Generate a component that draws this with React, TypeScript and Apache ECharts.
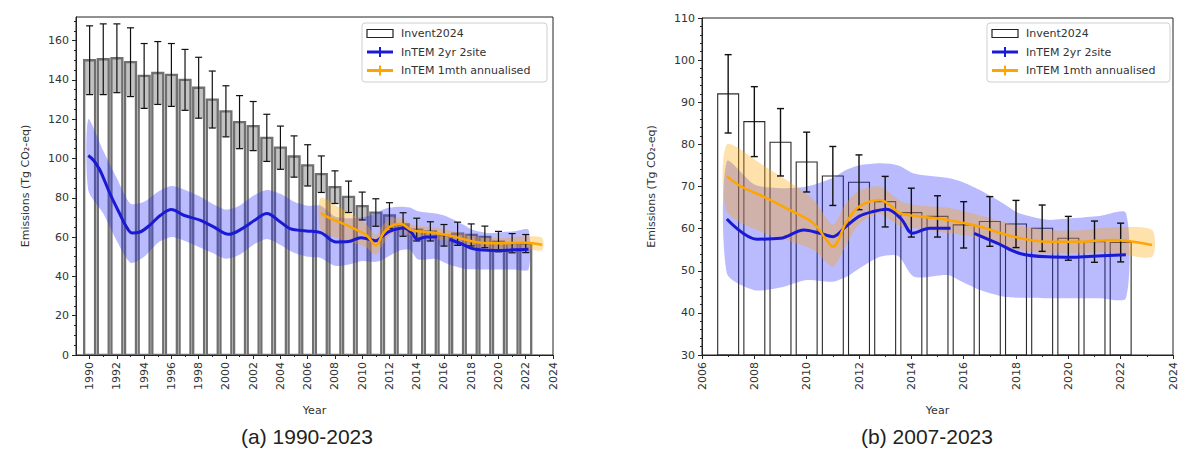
import { useEffect, useRef } from "react";
import * as echarts from "echarts";

// ---- Inventory (Invent2024), Tg CO2-eq ----
const invYears = [
  1990, 1991, 1992, 1993, 1994, 1995, 1996, 1997, 1998, 1999, 2000, 2001, 2002, 2003, 2004, 2005, 2006,
  2007, 2008, 2009, 2010, 2011, 2012, 2013, 2014, 2015, 2016, 2017, 2018, 2019, 2020, 2021, 2022,
];
const invValues = [
  150, 150.5, 151, 149, 142, 143.5, 142.5, 140, 136, 130, 124, 118.5, 116.5, 110.5, 105.5, 101, 96.5,
  92, 85.4, 80.5, 75.8, 72.5, 71, 66.4, 63.8, 62.9, 60.9, 61.7, 61.1, 60.1, 57.7, 56.9, 56.7,
];
const invUnc = [
  17.5, 18, 17.5, 17.5, 16.5, 16, 16, 15.5, 15.5, 14.5, 13, 13.5, 12.5, 12, 11, 10.5, 10.5,
  9.3, 8.3, 8, 7.1, 7, 6.5, 6, 5.8, 4.9, 5.5, 5.9, 5.6, 5.5, 5.2, 4.9, 4.6,
];

// ---- InTEM 2yr 2site: [year, Tg]; a null value breaks the line ----
const intem2yrLine = [
  [1989.9, 101.5], [1990.3, 99], [1990.76, 94], [1991.5, 82], [1992.2, 72], [1992.7, 65.2],
  [1993.1, 62.1], [1993.7, 62.6], [1994.4, 66], [1995.2, 71.1], [1996.0, 74], [1996.9, 71.1],
  [1998.1, 68.6], [1999.1, 65.2], [2000.2, 61.4], [2001.2, 64.3], [2002.2, 69], [2003.0, 72],
  [2004.0, 67.7], [2004.7, 64.3], [2005.9, 63.1], [2006.95, 62.3], [2008.1, 57.5], [2009.0, 57.7],
  [2009.9, 59.7], [2010.5, 58.9], [2011.0, 58.1], [2011.5, 60.5], [2012.0, 62.9], [2012.5, 64.0],
  [2013.06, 64.6], [2013.6, 62.4], [2014.05, 58.9], [2014.7, 60.1], [2015.5, 60.1], [2015.95, null],
  [2016.4, 58.9], [2017.3, 56.5], [2018.15, 54.1], [2019.2, 53.3], [2020.2, 53.2], [2021.1, 53.5],
  [2022.2, 53.8],
];
const intem2yrBandYears = [
  1989.9, 1991, 1992, 1993, 1994, 1995, 1996, 1997, 1998, 1999, 2000, 2001, 2002, 2003, 2004, 2005,
  2006, 2006.95, 2008, 2009, 2010, 2011, 2011.5, 2012, 2012.8, 2013.5, 2014.1, 2015.4, 2015.9, 2016.6,
  2017.5, 2018.1, 2019.2, 2020.2, 2021.2, 2022.2,
];
const intem2yrBandUpper = [
  120, 104, 90, 77, 78, 83, 86, 84, 81, 77, 74, 76, 81, 84, 82, 78,
  76, 76, 70.5, 69.6, 70, 72, 73.9, 75, 75.5, 75, 73.1, 72, 71.2, 69.2,
  66, 63.7, 62.1, 62.5, 63, 63.7,
];
const intem2yrBandLower = [
  84, 72, 58, 47, 50, 57, 60, 58, 55, 52, 49, 51, 56, 59, 56, 52,
  50, 49.4, 45.4, 46, 47.8, 47.4, 48.5, 50.5, 53.3, 53.5, 48.6, 49, 47.5, 45.5,
  43.9, 43.6, 43.5, 43.5, 43.5, 43.5,
];

// ---- InTEM 1mth annualised ----
const intem1mthLine = [
  [2006.95, 72.4], [2007.5, 70], [2008.35, 67.6], [2009.36, 64.4], [2010.25, 61.3], [2010.76, 57.3],
  [2011.0, 55.7], [2011.5, 61.3], [2012.0, 65.2], [2012.8, 66.8], [2013.6, 63.6], [2014.3, 62.9],
  [2015.35, 62.1], [2016.6, 60.5], [2017.9, 58.1], [2019.2, 56.9], [2020.4, 56.9], [2021.7, 57.3],
  [2023.2, 56.1],
];
const intem1mthBandYears = [
  2006.95, 2008.35, 2009.36, 2010.25, 2011.0, 2011.5, 2012.0, 2012.8, 2013.6, 2014.3, 2015.35,
  2016.6, 2017.9, 2019.2, 2020.4, 2021.7, 2023.2,
];
const intem1mthBandUpper = [80, 75, 71, 67, 61, 66, 69, 70, 66.5, 65.5, 65, 63.2, 61, 59.7, 59.6, 60.3, 59.7];
const intem1mthBandLower = [64, 59, 57, 55, 51, 56, 61, 63.5, 60.5, 60, 59, 57.8, 55.2, 54.1, 54.2, 54.3, 53.3];

// ---- Axis ticks ----
const leftYearTicks = [
  1990, 1992, 1994, 1996, 1998, 2000, 2002, 2004, 2006, 2008, 2010, 2012, 2014, 2016, 2018, 2020, 2022, 2024,
];
const leftYearMinor = [
  1991, 1993, 1995, 1997, 1999, 2001, 2003, 2005, 2007, 2009, 2011, 2013, 2015, 2017, 2019, 2021, 2023,
];
const leftValueTicks = [0, 20, 40, 60, 80, 100, 120, 140, 160];
const leftValueMinor = [
  5, 10, 15, 25, 30, 35, 45, 50, 55, 65, 70, 75, 85, 90, 95, 105, 110, 115, 125, 130, 135, 145, 150, 155,
  165, 170,
];

const FONT = "DejaVu Sans";
const AXIS_COLOR = "#222";
const LABEL_COLOR = "#333";
const BLUE = "#1a1ad6";
const ORANGE = "#ffa500";
const BLUE_FILL = "rgba(40,40,255,0.32)";
const ORANGE_FILL = "rgba(255,165,0,0.33)";
const Y_TITLE = "Emissions (Tg CO\u2082-eq)";

const plainYear = (v: number) => String(Math.round(v));

function barSeries(xi: number, yi: number, fromYear: number, base: number, left: boolean) {
  const data = invYears
    .map((y, i) => [y, invValues[i], invUnc[i]])
    .filter((d) => d[0] >= fromYear);
  return {
    type: "custom",
    xAxisIndex: xi,
    yAxisIndex: yi,
    clip: true,
    z: 1,
    silent: true,
    encode: { x: 0, y: 1 },
    data,
    renderItem: (_p: any, api: any) => {
      const x = api.value(0);
      const v = api.value(1);
      const u = api.value(2);
      const tl = api.coord([x - 0.4, v]);
      const br = api.coord([x + 0.4, base]);
      const children: any[] = [];
      if (left) {
        const ul = api.coord([x - 0.4, v - u]);
        children.push({
          type: "rect",
          shape: { x: tl[0], y: tl[1], width: br[0] - tl[0], height: ul[1] - tl[1] },
          style: { fill: "rgba(120,120,120,0.45)" },
        });
      }
      children.push({
        type: "rect",
        shape: { x: tl[0], y: tl[1], width: br[0] - tl[0], height: br[1] - tl[1] },
        style: { fill: "none", stroke: left ? "#707070" : "#2a2a2a", lineWidth: left ? 2.3 : 1.1 },
      });
      return { type: "group", children };
    },
  };
}

function errorSeries(xi: number, yi: number, fromYear: number, left: boolean) {
  const data = invYears
    .map((y, i) => [y, invValues[i], invUnc[i]])
    .filter((d) => d[0] >= fromYear);
  const half = 3.5;
  const style = { stroke: "#111", lineWidth: left ? 1.2 : 1.4 };
  return {
    type: "custom",
    xAxisIndex: xi,
    yAxisIndex: yi,
    clip: true,
    z: 3,
    silent: true,
    encode: { x: 0, y: 1 },
    data,
    renderItem: (_p: any, api: any) => {
      const x = api.value(0);
      const v = api.value(1);
      const u = api.value(2);
      const top = api.coord([x, v + u]);
      const bot = api.coord([x, v - u]);
      return {
        type: "group",
        children: [
          { type: "line", shape: { x1: top[0], y1: top[1], x2: bot[0], y2: bot[1] }, style },
          { type: "line", shape: { x1: top[0] - half, y1: top[1], x2: top[0] + half, y2: top[1] }, style },
          { type: "line", shape: { x1: bot[0] - half, y1: bot[1], x2: bot[0] + half, y2: bot[1] }, style },
        ],
      };
    },
  };
}

function bandSeries(
  xi: number,
  yi: number,
  years: number[],
  lower: number[],
  upper: number[],
  fromYear: number,
  fill: string
) {
  const idx = years.map((_, i) => i).filter((i) => years[i] >= fromYear);
  return {
    type: "custom",
    xAxisIndex: xi,
    yAxisIndex: yi,
    clip: true,
    z: 2,
    silent: true,
    encode: { x: 0, y: 1 },
    data: [[years[idx[0]], upper[idx[0]]]],
    renderItem: (_p: any, api: any) => {
      const pts: number[][] = [];
      idx.forEach((i) => pts.push(api.coord([years[i], upper[i]])));
      idx
        .slice()
        .reverse()
        .forEach((i) => pts.push(api.coord([years[i], lower[i]])));
      return { type: "polygon", shape: { points: pts, smooth: 0.25 }, style: { fill } };
    },
  };
}

function lineSeries(xi: number, yi: number, pts: any[], fromYear: number, color: string, width: number, z: number) {
  return {
    type: "line",
    xAxisIndex: xi,
    yAxisIndex: yi,
    data: pts.filter((p) => p[0] >= fromYear),
    showSymbol: false,
    smooth: 0.35,
    connectNulls: false,
    z,
    silent: true,
    lineStyle: { color, width },
  };
}

function legend(x0: number, w: number) {
  const rows = [33.5, 52, 70.5];
  const hx = x0 + 5;
  const hw = 26;
  const tx = x0 + 39;
  const textStyle = (text: string, y: number) => ({
    type: "text",
    x: tx,
    y,
    silent: true,
    style: { text, fill: "#333", fontSize: 11, fontFamily: FONT, verticalAlign: "middle", align: "left" },
  });
  return [
    {
      type: "rect",
      silent: true,
      shape: { x: x0, y: 23, width: w, height: 59, r: 3 },
      style: { fill: "rgba(255,255,255,0.85)", stroke: "#cfcfcf", lineWidth: 1 },
    },
    {
      type: "rect",
      silent: true,
      shape: { x: hx, y: rows[0] - 4, width: hw, height: 8 },
      style: { fill: "#fff", stroke: "#222", lineWidth: 1.2 },
    },
    {
      type: "line",
      silent: true,
      shape: { x1: hx, y1: rows[1], x2: hx + hw, y2: rows[1] },
      style: { stroke: BLUE, lineWidth: 3 },
    },
    {
      type: "line",
      silent: true,
      shape: { x1: hx + hw / 2, y1: rows[1] - 5, x2: hx + hw / 2, y2: rows[1] + 5 },
      style: { stroke: BLUE, lineWidth: 2 },
    },
    {
      type: "line",
      silent: true,
      shape: { x1: hx, y1: rows[2], x2: hx + hw, y2: rows[2] },
      style: { stroke: ORANGE, lineWidth: 3 },
    },
    {
      type: "line",
      silent: true,
      shape: { x1: hx + hw / 2, y1: rows[2] - 5, x2: hx + hw / 2, y2: rows[2] + 5 },
      style: { stroke: ORANGE, lineWidth: 2 },
    },
    textStyle("Invent2024", rows[0]),
    textStyle("InTEM 2yr 2site", rows[1]),
    textStyle("InTEM 1mth annualised", rows[2]),
  ];
}

const labelStyle = { color: LABEL_COLOR, fontSize: 11, fontFamily: FONT };
const nameStyle = { color: LABEL_COLOR, fontSize: 11, fontFamily: FONT };

export default function App() {
  const ref = useRef<HTMLDivElement>(null);

  useEffect(() => {
    if (!ref.current) return;
    const chart = echarts.init(ref.current, null, { renderer: "svg" });

    const option: any = {
      animation: false,
      backgroundColor: "#fff",
      grid: [
        { left: 76, top: 17, width: 477, height: 338, show: true, borderColor: AXIS_COLOR, borderWidth: 1, backgroundColor: "transparent" },
        { left: 702, top: 18, width: 471, height: 337, show: true, borderColor: AXIS_COLOR, borderWidth: 1, backgroundColor: "transparent" },
      ],
      xAxis: [
        {
          type: "value",
          gridIndex: 0,
          min: 1989,
          max: 2024,
          position: "bottom",
          name: "Year",
          nameLocation: "middle",
          nameGap: 50,
          nameTextStyle: nameStyle,
          axisLine: { lineStyle: { color: AXIS_COLOR } },
          axisTick: { customValues: leftYearTicks, length: 4, lineStyle: { color: AXIS_COLOR } },
          axisLabel: { ...labelStyle, customValues: leftYearTicks, rotate: 90, margin: 7, formatter: plainYear },
          splitLine: { show: false },
        },
        {
          type: "value",
          gridIndex: 0,
          min: 1989,
          max: 2024,
          position: "bottom",
          axisLine: { show: false },
          axisTick: { customValues: leftYearMinor, length: 2, lineStyle: { color: AXIS_COLOR } },
          axisLabel: { show: false },
          splitLine: { show: false },
        },
        {
          type: "value",
          gridIndex: 1,
          min: 2006,
          max: 2024,
          interval: 2,
          position: "bottom",
          name: "Year",
          nameLocation: "middle",
          nameGap: 50,
          nameTextStyle: nameStyle,
          axisLine: { lineStyle: { color: AXIS_COLOR } },
          axisTick: { length: 4, lineStyle: { color: AXIS_COLOR } },
          minorTick: { show: true, splitNumber: 2, length: 2, lineStyle: { color: AXIS_COLOR } },
          axisLabel: { ...labelStyle, rotate: 90, margin: 7, formatter: plainYear },
          splitLine: { show: false },
        },
      ],
      yAxis: [
        {
          type: "value",
          gridIndex: 0,
          min: 0,
          max: 172,
          position: "left",
          name: Y_TITLE,
          nameLocation: "middle",
          nameGap: 45,
          nameTextStyle: nameStyle,
          axisLine: { show: true, lineStyle: { color: AXIS_COLOR } },
          axisTick: { show: true, customValues: leftValueTicks, length: 4, lineStyle: { color: AXIS_COLOR } },
          axisLabel: { ...labelStyle, customValues: leftValueTicks, margin: 7 },
          splitLine: { show: false },
        },
        {
          type: "value",
          gridIndex: 0,
          min: 0,
          max: 172,
          position: "left",
          axisLine: { show: false },
          axisTick: { show: true, customValues: leftValueMinor, length: 2, lineStyle: { color: AXIS_COLOR } },
          axisLabel: { show: false },
          splitLine: { show: false },
        },
        {
          type: "value",
          gridIndex: 1,
          min: 30,
          max: 110,
          interval: 10,
          position: "left",
          name: Y_TITLE,
          nameLocation: "middle",
          nameGap: 45,
          nameTextStyle: nameStyle,
          axisLine: { show: true, lineStyle: { color: AXIS_COLOR } },
          axisTick: { show: true, length: 4, lineStyle: { color: AXIS_COLOR } },
          minorTick: { show: true, splitNumber: 5, length: 2, lineStyle: { color: AXIS_COLOR } },
          axisLabel: { ...labelStyle, margin: 7 },
          splitLine: { show: false },
        },
      ],
      series: [
        // (a) 1990-2023
        barSeries(0, 0, 1990, 0, true),
        bandSeries(0, 0, intem2yrBandYears, intem2yrBandLower, intem2yrBandUpper, 1989, BLUE_FILL),
        bandSeries(0, 0, intem1mthBandYears, intem1mthBandLower, intem1mthBandUpper, 1989, ORANGE_FILL),
        errorSeries(0, 0, 1990, true),
        lineSeries(0, 0, intem2yrLine, 1989, BLUE, 3, 4),
        lineSeries(0, 0, intem1mthLine, 1989, ORANGE, 2.5, 5),
        // (b) 2007-2023
        barSeries(2, 2, 2007, 30, false),
        bandSeries(2, 2, intem2yrBandYears, intem2yrBandLower, intem2yrBandUpper, 2006.9, BLUE_FILL),
        bandSeries(2, 2, intem1mthBandYears, intem1mthBandLower, intem1mthBandUpper, 2006.9, ORANGE_FILL),
        errorSeries(2, 2, 2007, false),
        lineSeries(2, 2, intem2yrLine, 2006.9, BLUE, 3, 4),
        lineSeries(2, 2, intem1mthLine, 2006.9, ORANGE, 2.5, 5),
      ],
      graphic: [
        ...legend(362, 185),
        ...legend(987, 183),
        {
          type: "text",
          x: 307,
          y: 436,
          silent: true,
          style: {
            text: "(a) 1990-2023",
            fill: "#222",
            fontSize: 21,
            fontFamily: "Liberation Sans",
            align: "center",
            verticalAlign: "middle",
          },
        },
        {
          type: "text",
          x: 927,
          y: 436,
          silent: true,
          style: {
            text: "(b) 2007-2023",
            fill: "#222",
            fontSize: 21,
            fontFamily: "Liberation Sans",
            align: "center",
            verticalAlign: "middle",
          },
        },
      ],
    };

    chart.setOption(option);
    return () => chart.dispose();
  }, []);

  return (
    <div
      ref={ref}
      style={{ position: "absolute", left: 0, top: 0, width: 1189, height: 452, background: "#fff" }}
    />
  );
}
